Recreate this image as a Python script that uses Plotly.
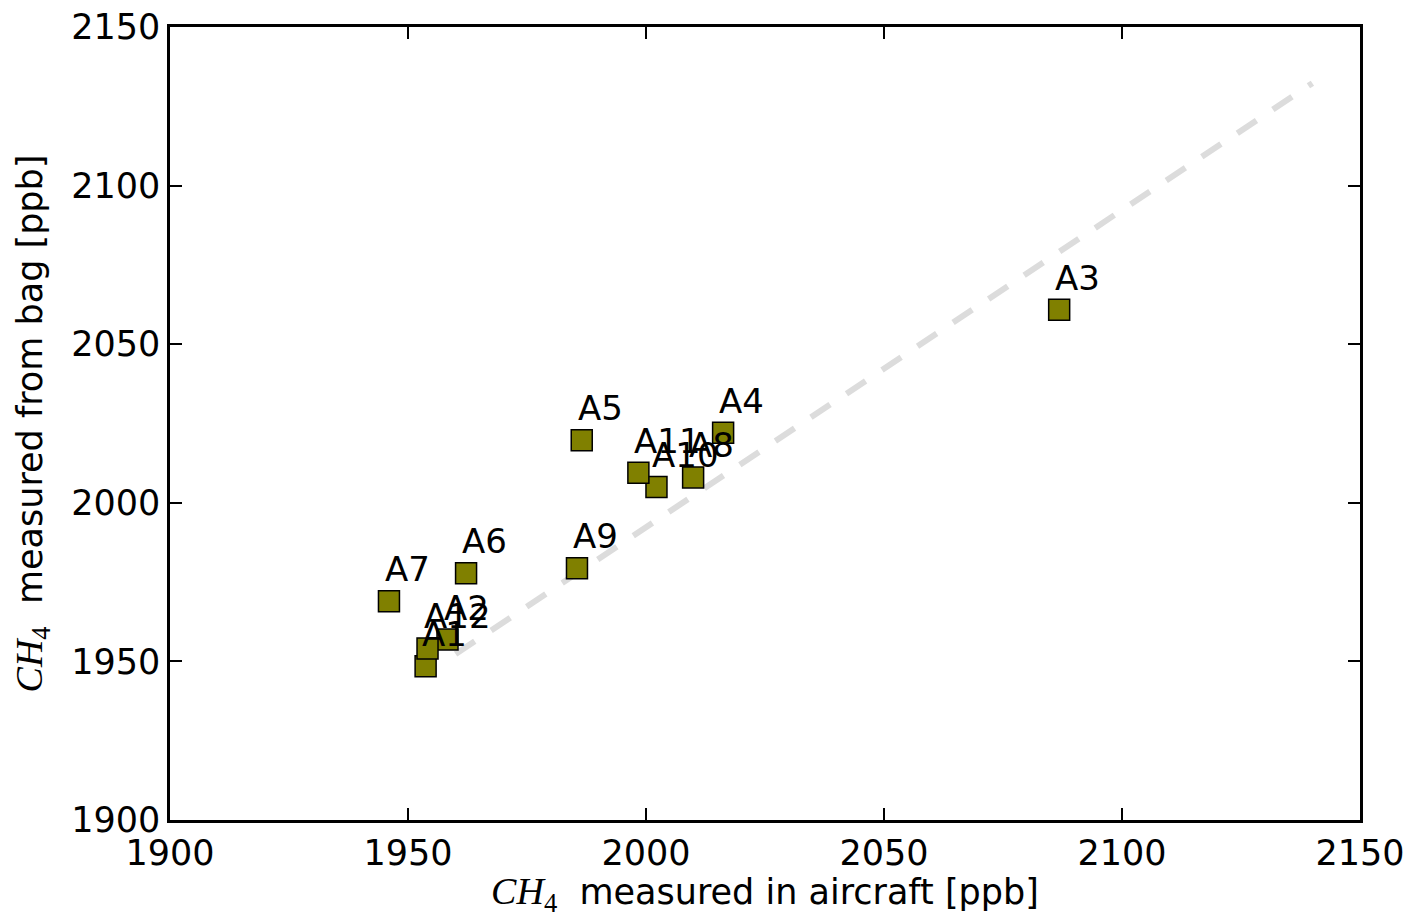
import plotly.graph_objects as go

labels = ["A1", "A2", "A3", "A4", "A5", "A6", "A7", "A8", "A9", "A10", "A11", "A12"]
aircraft = [1953.7, 1958.3, 2086.8, 2016.2, 1986.5, 1962.2, 1946.0, 2009.9, 1985.5, 2002.2, 1998.4, 1954.1]
bag = [1948.5, 1956.9, 2060.9, 2022.1, 2019.7, 1977.8, 1969.0, 2008.0, 1979.4, 2005.0, 2009.5, 1954.1]

line_x = [1960.0, 2140.0]
line_y = [1952.3, 2132.3]

tick_vals = [1900, 1950, 2000, 2050, 2100, 2150]
tick_text = ["1900", "1950", "2000", "2050", "2100", "2150"]

FONT = "DejaVu Sans, Bitstream Vera Sans, sans-serif"
CH4 = ("<span style='font-family:Liberation Serif, DejaVu Serif, serif;font-size:38px'>"
       "<i>CH</i><sub>4</sub></span>")

fig = go.Figure()
fig.add_trace(go.Scatter(
    x=line_x, y=line_y, mode="lines",
    line=dict(color="#dcdcdc", width=6, dash="23px,19.7px"),
    hoverinfo="skip", showlegend=False,
))
fig.add_trace(go.Scatter(
    x=aircraft, y=bag, mode="markers",
    marker=dict(symbol="square", size=21, color="#808000",
                line=dict(color="black", width=1.5)),
    text=labels, showlegend=False,
))

for lab, xv, yv in zip(labels, aircraft, bag):
    fig.add_annotation(
        x=xv, y=yv, text=lab, showarrow=False,
        xanchor="left", yanchor="middle", xshift=-6, yshift=32,
        font=dict(family=FONT, size=34, color="black"),
    )

axis_common = dict(
    range=[1900, 2150], tickvals=tick_vals, ticktext=tick_text,
    showgrid=False, zeroline=False, automargin=False,
    showline=True, linecolor="black", linewidth=2.5, mirror="ticks",
    ticks="inside", ticklen=12, tickwidth=1.5, tickcolor="black",
    tickfont=dict(family=FONT, size=35, color="black"),
)

fig.update_layout(
    width=1410, height=918,
    margin=dict(l=170, r=50, t=27, b=98, autoexpand=False),
    paper_bgcolor="white", plot_bgcolor="white",
    font=dict(family=FONT, color="black"),
    xaxis=dict(**axis_common,
               title=dict(text=CH4 + "  measured in aircraft [ppb]",
                          font=dict(family=FONT, size=35), standoff=8)),
    yaxis=dict(**axis_common,
               title=dict(text=CH4 + "  measured from bag [ppb]",
                          font=dict(family=FONT, size=35), standoff=18)),
)

fig.write_html("out.html")
